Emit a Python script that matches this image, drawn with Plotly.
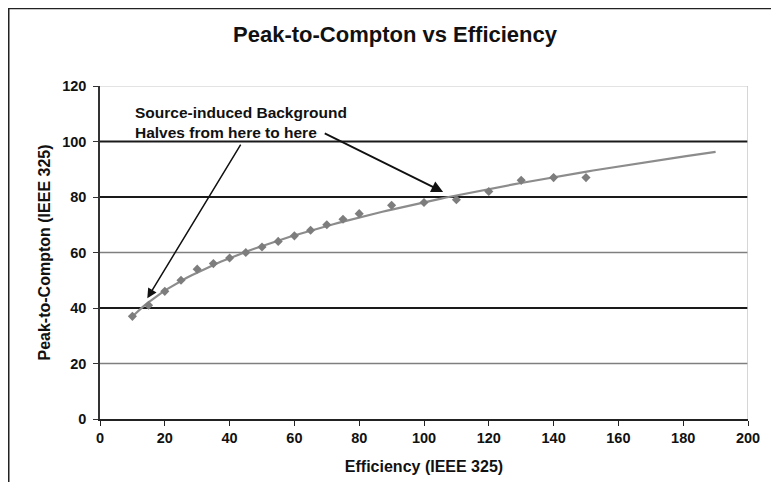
import numpy as np
import plotly.graph_objects as go

# ---- data ----
efficiency = [10, 15, 20, 25, 30, 35, 40, 45, 50, 55, 60, 65, 70, 75, 80, 90, 100, 110, 120, 130, 140, 150]
peak_to_compton = [37, 41, 46, 50, 54, 56, 58, 60, 62, 64, 66, 68, 70, 72, 74, 77, 78, 79, 82, 86, 87, 87]
trend_x_range = [10, 190]

x_ticks = [0, 20, 40, 60, 80, 100, 120, 140, 160, 180, 200]
y_ticks = [0, 20, 40, 60, 80, 100, 120]
strong_grid = [40, 80, 100]
light_grid = [20, 60]

title_text = "Peak-to-Compton vs Efficiency"
x_title = "Efficiency (IEEE 325)"
y_title = "Peak-to-Compton (IEEE 325)"
note_text = "Source-induced Background<br>Halves from here to here"
arrow1_tail, arrow1_tip = (43.7, 99.4), (14.6, 43.5)
arrow2_tail, arrow2_tip = (68.9, 103.2), (105.9, 81.8)

# power-law trendline fitted to the data (as a spreadsheet trendline would)
b, ln_a = np.polyfit(np.log(efficiency), np.log(peak_to_compton), 1)
tx = np.linspace(trend_x_range[0], trend_x_range[1], 120)
ty = np.exp(ln_a) * tx ** b

FONT = "Arial, 'Liberation Sans', sans-serif"

fig = go.Figure()
fig.add_trace(go.Scatter(x=tx, y=ty, mode="lines",
                         line=dict(color="#8c8c8c", width=2.2), hoverinfo="skip"))
fig.add_trace(go.Scatter(x=efficiency, y=peak_to_compton, mode="markers",
                         marker=dict(symbol="diamond", size=7, color="#7d7d7d")))

shapes = []
for yv in strong_grid:
    shapes.append(dict(type="line", xref="x", yref="y", x0=0, x1=200, y0=yv, y1=yv,
                       line=dict(color="#1a1a1a", width=2), layer="below"))
for yv in light_grid:
    shapes.append(dict(type="line", xref="x", yref="y", x0=0, x1=200, y0=yv, y1=yv,
                       line=dict(color="#7f7f7f", width=1.5), layer="below"))
# light plot-area border top & right
shapes.append(dict(type="line", xref="x", yref="y", x0=0, x1=200, y0=120, y1=120,
                   line=dict(color="#c8c8c8", width=1.2), layer="below"))
shapes.append(dict(type="line", xref="x", yref="y", x0=200, x1=200, y0=0, y1=120,
                   line=dict(color="#c8c8c8", width=1.5), layer="below"))
# outer chart border
shapes.append(dict(type="rect", xref="paper", yref="paper",
                   x0=-0.1408, x1=1.0432, y0=-0.3, y1=1.2325,
                   line=dict(color="#222", width=1.5), fillcolor="rgba(0,0,0,0)"))

annotations = [
    dict(xref="x", yref="y", x=10.2, y=114.2, text="<b>" + note_text + "</b>",
         showarrow=False, xanchor="left", yanchor="top", align="left",
         font=dict(family=FONT, size=15.5, color="#111")),
    dict(xref="x", yref="y", axref="x", ayref="y",
         x=arrow1_tip[0], y=arrow1_tip[1], ax=arrow1_tail[0], ay=arrow1_tail[1],
         text="", showarrow=True, arrowhead=2, arrowsize=1.3, arrowwidth=1.5,
         arrowcolor="#111"),
    dict(xref="x", yref="y", axref="x", ayref="y",
         x=arrow2_tip[0], y=arrow2_tip[1], ax=arrow2_tail[0], ay=arrow2_tail[1],
         text="", showarrow=True, arrowhead=2, arrowsize=1.3, arrowwidth=1.8,
         arrowcolor="#111"),
]

fig.update_layout(
    width=771, height=474,
    margin=dict(l=92, r=31, t=78, b=63, autoexpand=False),
    paper_bgcolor="white", plot_bgcolor="white",
    showlegend=False,
    title=dict(text="<b>" + title_text + "</b>", xref="container", yref="container",
               x=0.502, y=0.945, xanchor="center", yanchor="middle",
               font=dict(family=FONT, size=22, color="#111")),
    font=dict(family=FONT, color="#111"),
    shapes=shapes,
    annotations=annotations,
)
fig.update_xaxes(range=[0, 200], tickvals=x_ticks, ticktext=["<b>%d</b>" % v for v in x_ticks],
                 showgrid=False, zeroline=False, showline=True, linecolor="#222", linewidth=1.5,
                 ticks="outside", ticklen=5, tickcolor="#222", tickwidth=1.2,
                 tickfont=dict(family=FONT, size=14.5, color="#111"),
                 title=dict(text="<b>" + x_title + "</b>", standoff=16,
                            font=dict(family=FONT, size=16, color="#111")))
fig.update_yaxes(range=[0, 120], tickvals=y_ticks, ticktext=["<b>%d</b>" % v for v in y_ticks],
                 showgrid=False, zeroline=False, showline=True, linecolor="#333", linewidth=1.5,
                 ticks="outside", ticklen=5, tickcolor="#333", tickwidth=1.2,
                 ticklabelstandoff=4,
                 tickfont=dict(family=FONT, size=14.5, color="#111"),
                 title=dict(text="<b>" + y_title + "</b>", standoff=8,
                            font=dict(family=FONT, size=16, color="#111")))

fig.write_html("out.html")
